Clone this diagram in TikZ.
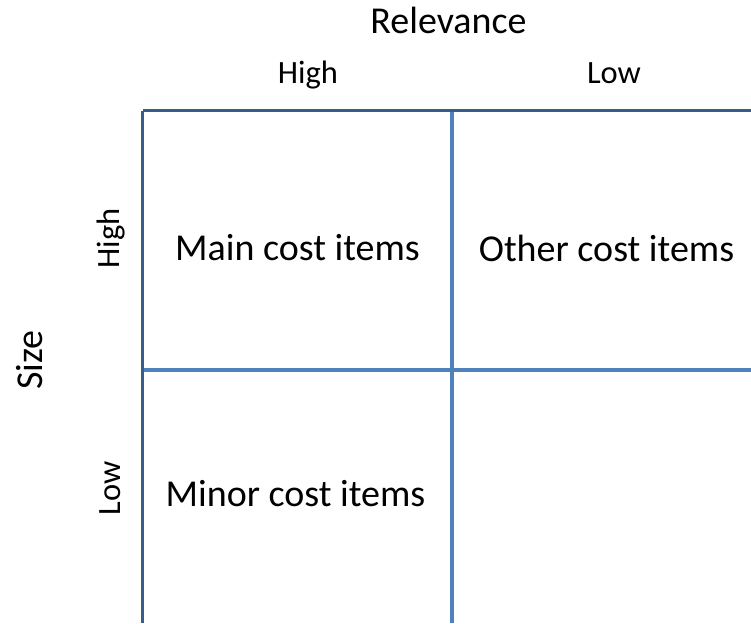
\documentclass[tikz,border=0pt]{standalone}
\usepackage{fontspec}
\setmainfont{Carlito}
\usetikzlibrary{positioning}
\definecolor{outerline}{RGB}{56,93,138}
\definecolor{innerline}{RGB}{79,129,189}
\tikzset{
    celltext/.style={font=\fontsize{38}{42}\selectfont, inner sep=0pt, anchor=base},
    axistext/.style={font=\fontsize{38}{42}\selectfont, inner sep=0pt, anchor=base},
    leveltext/.style={font=\fontsize{32.5}{38}\selectfont, inner sep=0pt, anchor=base},
    outerrule/.style={draw=outerline, line width=3pt},
    innerrule/.style={draw=innerline, line width=3.5pt}
}

\begin{document}
\begin{tikzpicture}[x=1pt, y=1pt]
    \useasboundingbox (0,0) rectangle (751,623);

    % grid corners
    \coordinate (tl) at (142.5,512);
    \coordinate (tm) at (452,512);
    \coordinate (tr) at (751,512);
    \coordinate (ml) at (142.5,253);
    \coordinate (mr) at (751,253);
    \coordinate (bl) at (142.5,0);
    \coordinate (bm) at (452,0);

    \draw[innerrule] (ml) -- (mr);
    \draw[innerrule] (tm) -- (bm);
    \draw[outerrule] (tl) -- (tr);
    \draw[outerrule] (tl) -- (bl);

    % axis titles
    \node[axistext] (relevance) at (448.5,589) {Relevance};
    \node[axistext, rotate=90] (size) at (42,263) {Size};

    % levels
    \node[leveltext] (relhigh) at (308,539) {High};
    \node[leveltext] (rellow) at (614,539) {Low};
    \node[leveltext, rotate=90] (sizehigh) at (119,384.5) {High};
    \node[leveltext, rotate=90] (sizelow) at (120,134.5) {Low};

    % cells
    \node[celltext] (main) at (297.5,362) {Main cost items};
    \node[celltext] (other) at (606.5,361.5) {Other cost items};
    \node[celltext] (minor) at (295.5,116) {Minor cost items};
\end{tikzpicture}
\end{document}
